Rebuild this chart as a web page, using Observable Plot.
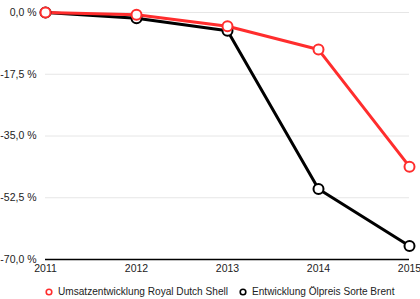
<!DOCTYPE html>
<html>
<head>
<meta charset="utf-8">
<script src="https://cdn.jsdelivr.net/npm/d3@7"></script>
<script src="https://cdn.jsdelivr.net/npm/@observablehq/plot@0.6"></script>
<style>
  body { margin: 0; background: #fff; font-family: "Liberation Sans", Arial, sans-serif; }
  #wrap { position: relative; width: 420px; height: 299px; }
  #legend { position: absolute; left: 0; top: 280px; width: 420px; height: 19px; font-size: 10.1px; color: #222; }
  .item { position: absolute; top: 6px; display: flex; align-items: center; white-space: nowrap; }
  .item svg { margin-right: 5px; }
</style>
</head>
<body>
<div id="wrap"><div id="chart"></div><div id="legend"></div></div>
<script>
const years = [2011, 2012, 2013, 2014, 2015];
const shell = [0, -0.65, -3.9, -10.5, -43.7];
const brent = [0, -1.6, -5.2, -50.0, -66.2];
const yTicks = [0, -17.5, -35, -52.5, -70];
const seriesNames = ["Umsatzentwicklung Royal Dutch Shell", "Entwicklung Ölpreis Sorte Brent"];
const seriesColors = ["#ff2d2d", "#000000"];

const data = [];
years.forEach((y, i) => data.push({year: y, value: shell[i], series: seriesNames[0]}));
years.forEach((y, i) => data.push({year: y, value: brent[i], series: seriesNames[1]}));

const fmt = d => d.toFixed(1).replace(".", ",") + " %";

const chart = Plot.plot({
  width: 420,
  height: 280,
  marginLeft: 45,
  marginRight: 11,
  marginTop: 12,
  marginBottom: 21,
  style: {fontFamily: "Liberation Sans, Arial, sans-serif", fontSize: "10.5px", color: "#222", background: "#fff"},
  x: {domain: [2011, 2015], ticks: years, tickFormat: d => String(d), tickSize: 0, tickPadding: 5, label: null},
  y: {domain: [-70, 0], ticks: yTicks, tickFormat: fmt, tickSize: 0, tickPadding: 9, label: null},
  color: {domain: seriesNames, range: seriesColors},
  marks: [
    Plot.ruleY(yTicks.filter(t => t !== -70), {stroke: "#e6e6e6", strokeWidth: 1}),
    Plot.ruleY([-70], {stroke: "#000", strokeWidth: 1.5}),
    Plot.line(data.filter(d => d.series === seriesNames[1]), {x: "year", y: "value", stroke: "series", strokeWidth: 3}),
    Plot.line(data.filter(d => d.series === seriesNames[0]), {x: "year", y: "value", stroke: "series", strokeWidth: 3}),
    Plot.dot(data.filter(d => d.series === seriesNames[1]), {x: "year", y: "value", stroke: "series", fill: "#fff", r: 5, strokeWidth: 2}),
    Plot.dot(data.filter(d => d.series === seriesNames[0]), {x: "year", y: "value", stroke: "series", fill: "#fff", r: 5, strokeWidth: 2})
  ]
});
document.getElementById("chart").appendChild(chart);

const legend = document.getElementById("legend");
const lefts = [45, 239];
seriesNames.forEach((name, i) => {
  const item = document.createElement("div");
  item.className = "item";
  item.style.left = lefts[i] + "px";
  item.innerHTML = `<svg width="8" height="8"><circle cx="4" cy="4" r="2.8" fill="#fff" stroke="${seriesColors[i]}" stroke-width="1.6"/></svg><span>${name}</span>`;
  legend.appendChild(item);
});
</script>
</body>
</html>
